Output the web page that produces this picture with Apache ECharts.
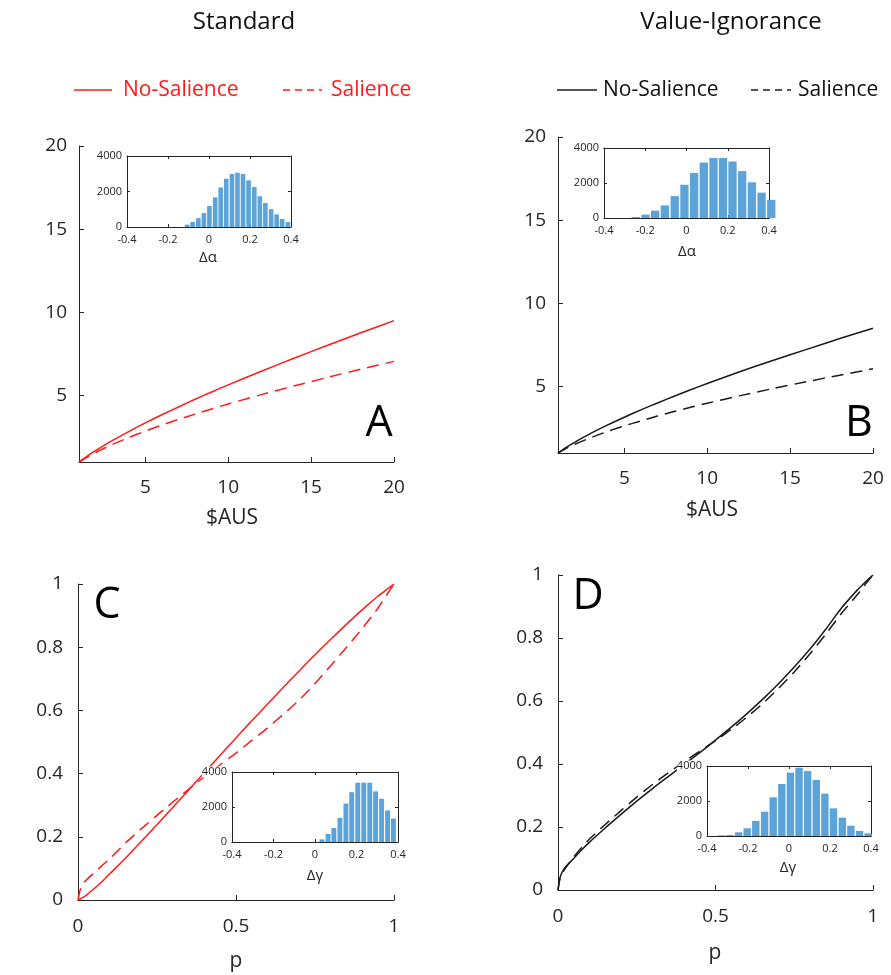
<!DOCTYPE html>
<html><head><meta charset="utf-8">
<script src="https://cdn.jsdelivr.net/npm/echarts@6/dist/echarts.min.js"></script>
<style>html,body{margin:0;padding:0;background:#fff}#c{width:891px;height:975px}</style>
</head><body><div id="c"></div>
<script>
// ---------- data ----------
const moneyX = [1,1.5,2,3,4,5,6,7,8,9,10,12,14,16,18,20];
const stdMoneyNoSal = [1,1.36,1.68,2.28,2.83,3.35,3.84,4.31,4.77,5.21,5.64,6.46,7.25,8.02,8.77,9.5];
const stdMoneySal   = [1,1.30,1.57,2.05,2.47,2.86,3.22,3.56,3.88,4.19,4.49,5.05,5.58,6.09,6.58,7.05];
const viMoneyNoSal  = [1,1.34,1.64,2.19,2.69,3.15,3.59,4.01,4.41,4.80,5.18,5.90,6.58,7.23,7.88,8.5];
const viMoneySal    = [1,1.28,1.52,1.93,2.30,2.63,2.93,3.22,3.49,3.75,3.99,4.45,4.88,5.29,5.68,6.06];

const probP        = [0,0.005,0.01,0.02,0.03,0.05,0.075,0.1,0.15,0.2,0.25,0.3,0.35,0.4,0.45,0.5,0.55,0.6,0.65,0.7,0.75,0.8,0.85,0.9,0.95,0.98,1];
const stdProbNoSal = [0,0.002,0.005,0.011,0.018,0.035,0.057,0.082,0.132,0.185,0.238,0.293,0.348,0.403,0.458,0.513,0.567,0.62,0.673,0.725,0.776,0.825,0.873,0.919,0.962,0.985,1];
const stdProbSal   = [0,0.025,0.04,0.057,0.067,0.085,0.108,0.13,0.18,0.225,0.268,0.31,0.35,0.39,0.428,0.465,0.505,0.545,0.588,0.633,0.685,0.742,0.8,0.86,0.925,0.97,1];
const viProbNoSal  = [0,0.033,0.05,0.068,0.08,0.10,0.127,0.152,0.197,0.24,0.282,0.322,0.36,0.398,0.436,0.476,0.517,0.56,0.606,0.655,0.708,0.765,0.828,0.895,0.952,0.982,1];
const viProbSal    = [0,0.03,0.045,0.064,0.078,0.105,0.135,0.162,0.208,0.252,0.295,0.335,0.372,0.407,0.441,0.474,0.51,0.549,0.592,0.64,0.692,0.75,0.812,0.878,0.937,0.976,1];

const histAlphaStdX = [-0.107,-0.080,-0.052,-0.025,0.002,0.030,0.057,0.084,0.112,0.139,0.166,0.193,0.221,0.248,0.275,0.303,0.330,0.357,0.385];
const histAlphaStdY = [130,280,500,790,1180,1670,2230,2720,2990,3060,2990,2630,2250,1730,1350,1010,710,450,280];
const histAlphaViX  = [-0.246,-0.199,-0.152,-0.105,-0.057,-0.010,0.037,0.084,0.131,0.177,0.223,0.270,0.317,0.364,0.411];
const histAlphaViY  = [60,190,420,720,1250,1900,2570,3170,3430,3430,3230,2680,2040,1450,1040];
const histGammaStdX = [0.034,0.063,0.091,0.120,0.149,0.177,0.206,0.235,0.264,0.292,0.321,0.350,0.378];
const histGammaStdY = [150,460,800,1380,2200,2850,3390,3390,3390,2890,2470,1800,1340];
const histGammaViX  = [-0.330,-0.288,-0.246,-0.204,-0.162,-0.119,-0.077,-0.035,0.007,0.049,0.091,0.133,0.175,0.217,0.260,0.302,0.344,0.386];
const histGammaViY  = [40,60,210,440,860,1390,2210,2970,3620,3900,3710,3200,2420,1580,1050,590,290,150];

const moneyTicks = [5,10,15,20];

// ---------- styling ----------
const FONT = 'Open Sans';
const AX = '#262626';
const RED = '#ff1a1a';
const BLK = '#1a1a1a';
const BLUE = '#5ba3d9';

const pairs = (xs, ys) => xs.map((x, i) => [x, ys[i]]);

const grids = [
  {left:79, top:146, width:315, height:316},   // A
  {left:558, top:137, width:315, height:316},  // B
  {left:78, top:584, width:316, height:316},   // C
  {left:558, top:575, width:315, height:315},  // D
  {left:127, top:156, width:164, height:71, show:true, backgroundColor:'#fff', borderWidth:0, z:3}, // inset A
  {left:604, top:148, width:165, height:70, show:true, backgroundColor:'#fff', borderWidth:0, z:3}, // inset B
  {left:232, top:772, width:166, height:70, show:true, backgroundColor:'#fff', borderWidth:0, z:3}, // inset C
  {left:707, top:766, width:164, height:70, show:true, backgroundColor:'#fff', borderWidth:0, z:3}  // inset D
];

const xAxes = [], yAxes = [];
function mainAxis(isX, gi, min, max, opts) {
  const a = {
    type:'value', gridIndex:gi, min:min, max:max,
    axisLine:{show:true, onZero:false, lineStyle:{color:AX, width:1}},
    axisTick:{show:true, inside:true, length:5, lineStyle:{color:AX, width:1}},
    splitLine:{show:false},
    axisLabel:{color:AX, fontSize:19, fontFamily:FONT, margin: isX ? 16 : 12}
  };
  if (opts.custom) {
    a.axisTick.customValues = opts.custom;
    a.axisLabel.customValues = opts.custom;
  } else {
    a.interval = opts.interval;
  }
  if (opts.margin !== undefined) a.axisLabel.margin = opts.margin;
  return a;
}
function insetAxis(isX, gi, pos, labels) {
  const a = {
    type:'value', gridIndex:gi, position:pos, z:4,
    min: isX ? -0.4 : 0, max: isX ? 0.4 : 4000, interval: isX ? 0.2 : 2000,
    axisLine:{show:true, onZero:false, lineStyle:{color:AX, width:1}},
    axisTick:{show:true, inside:true, length:3, lineStyle:{color:AX, width:1}},
    splitLine:{show:false},
    axisLabel:{show:labels, color:AX, fontSize:11, fontFamily:FONT, margin: isX ? 7 : 5,
               formatter: v => String(Math.round(v * 10) / 10)}
  };
  if (!isX) a.axisLabel.formatter = v => String(Math.round(v));
  if (!isX && labels) { a.axisLabel.backgroundColor = '#fff'; }
  return a;
}
xAxes.push(mainAxis(true, 0, 1, 20, {custom:moneyTicks}));
yAxes.push(mainAxis(false, 0, 1, 20, {custom:moneyTicks}));
xAxes.push(mainAxis(true, 1, 1, 20, {custom:moneyTicks}));
yAxes.push(mainAxis(false, 1, 1, 20, {custom:moneyTicks}));
xAxes.push(mainAxis(true, 2, 0, 1, {interval:0.5, margin:17}));
yAxes.push(mainAxis(false, 2, 0, 1, {interval:0.2, margin:15}));
xAxes.push(mainAxis(true, 3, 0, 1, {interval:0.5, margin:17}));
yAxes.push(mainAxis(false, 3, 0, 1, {interval:0.2, margin:15}));
for (let g = 4; g < 8; g++) { xAxes.push(insetAxis(true, g, 'bottom', true)); yAxes.push(insetAxis(false, g, 'left', true)); }
for (let g = 4; g < 8; g++) { xAxes.push(insetAxis(true, g, 'top', false)); yAxes.push(insetAxis(false, g, 'right', false)); }

function lineSeries(ai, xs, ys, color, dashed) {
  return {
    type:'line', xAxisIndex:ai, yAxisIndex:ai, data:pairs(xs, ys),
    showSymbol:false, smooth:0.25, z:1, silent:true,
    lineStyle:{color:color, width:1.5, type: dashed ? [12,7] : 'solid'}
  };
}
function histSeries(ai, xs, ys, w) {
  return {
    type:'bar', xAxisIndex:ai, yAxisIndex:ai, data:pairs(xs, ys),
    barWidth:w, clip:true, z:5, silent:true,
    itemStyle:{color:BLUE}
  };
}

const series = [
  lineSeries(0, moneyX, stdMoneyNoSal, RED, false),
  lineSeries(0, moneyX, stdMoneySal, RED, true),
  lineSeries(1, moneyX, viMoneyNoSal, BLK, false),
  lineSeries(1, moneyX, viMoneySal, BLK, true),
  lineSeries(2, probP, stdProbNoSal, RED, false),
  lineSeries(2, probP, stdProbSal, RED, true),
  lineSeries(3, probP, viProbNoSal, BLK, false),
  lineSeries(3, probP, viProbSal, BLK, true),
  histSeries(4, histAlphaStdX, histAlphaStdY, 4.6),
  histSeries(5, histAlphaViX, histAlphaViY, 8.3),
  histSeries(6, histGammaStdX, histGammaStdY, 4.9),
  histSeries(7, histGammaViX, histGammaViY, 7.4)
];

function txt(x, y, s, size, color, extra) {
  return Object.assign({type:'text', x:x, y:y, z:10, style:{text:s, fill:color||AX, fontSize:size, fontFamily:FONT, align:'center', verticalAlign:'middle'}}, extra||{});
}
function seg(x1, x2, y, color, dashed) {
  return {type:'line', z:10, shape:{x1:x1, y1:y, x2:x2, y2:y}, style:{stroke:color, lineWidth:1.5, lineDash: dashed ? [7,5] : null}};
}

const graphic = [
  txt(244, 22, 'Standard', 24, '#111'),
  txt(731, 22, 'Value-Ignorance', 24, '#111'),
  seg(74, 112, 90, RED, false),
  {type:'text', x:123, y:90, z:10, style:{text:'No-Salience', fill:RED, fontSize:21, fontFamily:FONT, align:'left', verticalAlign:'middle'}},
  seg(283, 322, 90, RED, true),
  {type:'text', x:331, y:90, z:10, style:{text:'Salience', fill:RED, fontSize:21, fontFamily:FONT, align:'left', verticalAlign:'middle'}},
  seg(557, 597, 90, BLK, false),
  {type:'text', x:603, y:90, z:10, style:{text:'No-Salience', fill:'#111', fontSize:21, fontFamily:FONT, align:'left', verticalAlign:'middle'}},
  seg(751, 791, 90, BLK, true),
  {type:'text', x:798, y:90, z:10, style:{text:'Salience', fill:'#111', fontSize:21, fontFamily:FONT, align:'left', verticalAlign:'middle'}},
  txt(379, 424, 'A', 43, '#000'),
  txt(859, 424, 'B', 43, '#000'),
  txt(107, 606, 'C', 43, '#000'),
  txt(588, 597, 'D', 43, '#000'),
  txt(25, 312, 'w($AUS)', 21, AX, {rotation:Math.PI/2, originX:25, originY:312}),
  txt(232, 518, '$AUS', 21, AX),
  txt(505, 303, 'w($AUS)', 21, AX, {rotation:Math.PI/2, originX:505, originY:303}),
  txt(712, 510, '$AUS', 21, AX),
  txt(18, 747, 'w(p)', 21, AX, {rotation:Math.PI/2, originX:18, originY:747}),
  txt(236, 961, 'p', 21, AX),
  txt(498, 740, 'w(p)', 21, AX, {rotation:Math.PI/2, originX:498, originY:740}),
  txt(715, 953, 'p', 21, AX),
  txt(208, 258, 'Δα', 15, AX),
  txt(687, 252, 'Δα', 15, AX),
  txt(315, 876, 'Δγ', 15, AX),
  txt(788, 868, 'Δγ', 15, AX)
];

const chart = echarts.init(document.getElementById('c'), null, {renderer:'canvas'});
chart.setOption({
  animation:false,
  backgroundColor:'#fff',
  grid:grids, xAxis:xAxes, yAxis:yAxes, series:series, graphic:graphic
});
</script></body></html>
